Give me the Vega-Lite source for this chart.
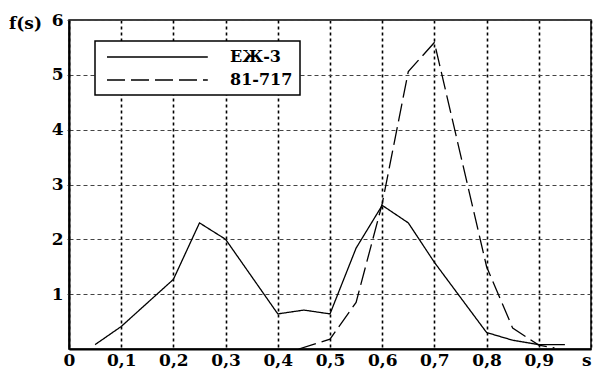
{
  "$schema": "https://vega.github.io/schema/vega-lite/v6.json",
  "width": 522,
  "height": 329,
  "autosize": "none",
  "padding": {"left": 69, "top": 20, "right": 2, "bottom": 25},
  "background": "white",
  "config": {
    "view": {"stroke": "black", "strokeWidth": 1.5},
    "font": "DejaVu Serif"
  },
  "data": {
    "values": [
      {"s": 0.05, "f": 0.08, "series": "ЕЖ-3"},
      {"s": 0.1, "f": 0.41, "series": "ЕЖ-3"},
      {"s": 0.2, "f": 1.27, "series": "ЕЖ-3"},
      {"s": 0.25, "f": 2.3, "series": "ЕЖ-3"},
      {"s": 0.3, "f": 2.0, "series": "ЕЖ-3"},
      {"s": 0.4, "f": 0.64, "series": "ЕЖ-3"},
      {"s": 0.45, "f": 0.71, "series": "ЕЖ-3"},
      {"s": 0.5, "f": 0.64, "series": "ЕЖ-3"},
      {"s": 0.55, "f": 1.84, "series": "ЕЖ-3"},
      {"s": 0.6, "f": 2.62, "series": "ЕЖ-3"},
      {"s": 0.65, "f": 2.3, "series": "ЕЖ-3"},
      {"s": 0.7, "f": 1.58, "series": "ЕЖ-3"},
      {"s": 0.8, "f": 0.3, "series": "ЕЖ-3"},
      {"s": 0.85, "f": 0.16, "series": "ЕЖ-3"},
      {"s": 0.9, "f": 0.08, "series": "ЕЖ-3"},
      {"s": 0.95, "f": 0.08, "series": "ЕЖ-3"},
      {"s": 0.44, "f": 0.0, "series": "81-717"},
      {"s": 0.5, "f": 0.18, "series": "81-717"},
      {"s": 0.55, "f": 0.85, "series": "81-717"},
      {"s": 0.6, "f": 2.65, "series": "81-717"},
      {"s": 0.65, "f": 5.06, "series": "81-717"},
      {"s": 0.7, "f": 5.59, "series": "81-717"},
      {"s": 0.8, "f": 1.5, "series": "81-717"},
      {"s": 0.85, "f": 0.38, "series": "81-717"},
      {"s": 0.9, "f": 0.07, "series": "81-717"},
      {"s": 0.93, "f": 0.02, "series": "81-717"}
    ]
  },
  "mark": {"type": "line", "color": "black", "strokeWidth": 1.3, "clip": true},
  "encoding": {
    "x": {
      "field": "s",
      "type": "quantitative",
      "scale": {"domain": [0, 1], "nice": false, "zero": false},
      "axis": {
        "title": null,
        "values": [0, 0.1, 0.2, 0.3, 0.4, 0.5, 0.6, 0.7, 0.8, 0.9, 1],
        "labelExpr": "datum.value >= 0.999 ? 's' : (datum.value == 0 ? '0' : replace(format(datum.value, '.1f'), '.', ','))",
        "labelAlign": {"condition": {"test": "datum.value >= 0.999", "value": "right"}, "value": "center"},
        "labelFont": "DejaVu Serif",
        "labelFontWeight": "bold",
        "labelFontSize": 17,
        "labelColor": "black",
        "labelPadding": 3,
        "labelFlush": false,
        "labelOverlap": false,
        "ticks": false,
        "domainColor": "black",
        "domainWidth": 2,
        "grid": true,
        "gridColor": "black",
        "gridWidth": 1.6,
        "gridDash": [3, 3],
        "gridOpacity": 1
      }
    },
    "y": {
      "field": "f",
      "type": "quantitative",
      "scale": {"domain": [0, 6], "nice": false},
      "axis": {
        "title": "f(s)",
        "titleAngle": 0,
        "titleFont": "DejaVu Serif",
        "titleFontWeight": "bold",
        "titleFontSize": 17,
        "titleColor": "black",
        "titleAlign": "center",
        "titleBaseline": "middle",
        "titleX": -44,
        "titleY": 3,
        "values": [1, 2, 3, 4, 5, 6],
        "labelFont": "DejaVu Serif",
        "labelFontWeight": "bold",
        "labelFontSize": 17,
        "labelColor": "black",
        "labelPadding": 2,
        "labelFlush": false,
        "labelOverlap": false,
        "ticks": true,
        "tickSize": 4,
        "tickColor": "#444",
        "tickDash": [2, 2],
        "domainColor": "black",
        "domainWidth": 2,
        "grid": true,
        "gridColor": "#444",
        "gridWidth": 1,
        "gridDash": [4, 3],
        "gridOpacity": 1
      }
    },
    "strokeDash": {
      "field": "series",
      "type": "nominal",
      "scale": {"domain": ["ЕЖ-3", "81-717"], "range": [[1, 0], [18, 6]]},
      "legend": {
        "orient": "none",
        "legendX": 26,
        "legendY": 21,
        "title": null,
        "symbolType": "M-0.5,0H12.1",
        "symbolSize": 256,
        "symbolStrokeColor": "black",
        "symbolFillColor": "transparent",
        "symbolStrokeWidth": 1.3,
        "labelFont": "DejaVu Serif",
        "labelFontWeight": "bold",
        "labelFontSize": 16,
        "labelColor": "black",
        "labelOffset": 110,
        "rowPadding": 6,
        "padding": 7,
        "strokeColor": "black",
        "fillColor": "white",
        "encode": {"legend": {"update": {"strokeWidth": {"value": 1.5}}}}
      }
    }
  }
}
